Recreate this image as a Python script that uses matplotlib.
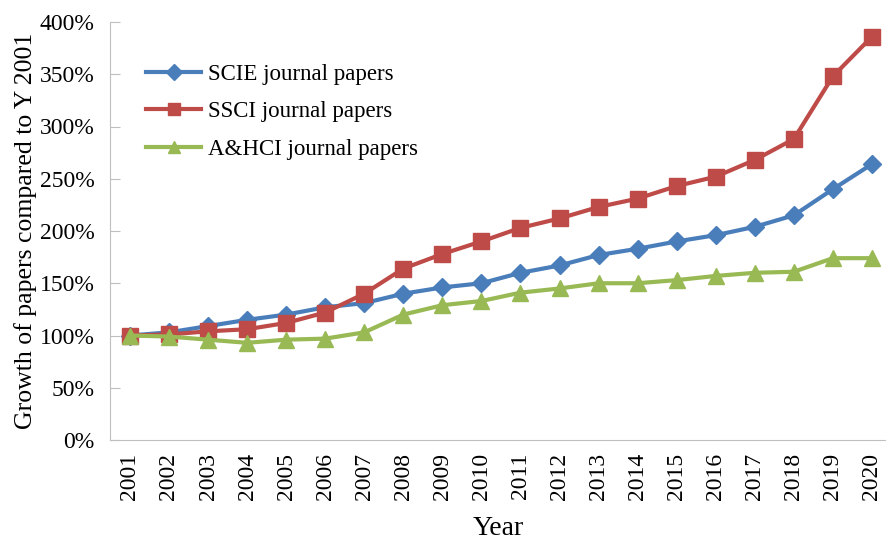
import matplotlib.pyplot as plt
from matplotlib.ticker import FuncFormatter

plt.rcParams['font.family'] = ['Liberation Serif', 'DejaVu Serif']

years = list(range(2001, 2021))
scie = [100, 103, 109, 115, 120, 127, 131, 140, 146, 150, 160, 167, 177, 183, 190, 196, 204, 215, 240, 264]
ssci = [100, 101, 104, 106, 112, 122, 140, 164, 178, 190, 203, 212, 223, 231, 243, 252, 268, 288, 348, 386]
ahci = [100, 99, 96, 93, 96, 97, 103, 120, 129, 133, 141, 145, 150, 150, 153, 157, 160, 161, 174, 174]

fig = plt.figure(figsize=(8.86, 5.42), dpi=100)
ax = fig.add_axes([110 / 886, 1 - 440 / 542, (886 - 110) / 886, (440 - 22) / 542])

ax.plot(years, scie, color='#4A7EBB', marker='D', markersize=9, linewidth=3, label='SCIE journal papers')
ax.plot(years, ssci, color='#BE4B48', marker='s', markersize=11, linewidth=3, label='SSCI journal papers')
ax.plot(years, ahci, color='#98B954', marker='^', markersize=11, linewidth=3, label='A&HCI journal papers')

ax.set_xlim(2000.49, 2020.36)
ax.set_ylim(0, 400)
ax.set_yticks(range(0, 401, 50))
ax.yaxis.set_major_formatter(FuncFormatter(lambda v, p: '%d%%' % v))
ax.set_xticks(years)
ax.set_xticklabels([str(y) for y in years], rotation=90)
ax.tick_params(axis='x', length=0, labelsize=17, pad=9)
ax.tick_params(axis='y', direction='in', length=7, color='#BFBFBF', labelsize=17, pad=11)

for s in ['top', 'right']:
    ax.spines[s].set_visible(False)
for s in ['left', 'bottom']:
    ax.spines[s].set_color('#BFBFBF')

ax.set_xlabel('Year', fontsize=20, labelpad=12)
ax.set_ylabel('Growth of papers compared to Y 2001', fontsize=18.5, labelpad=2)

ax.legend(loc='upper left', bbox_to_anchor=(0.02, 0.95), frameon=False, fontsize=16.5,
          handlelength=2.4, handletextpad=0.3, labelspacing=0.72, markerscale=0.85)

fig.savefig('out.png', dpi=100)
